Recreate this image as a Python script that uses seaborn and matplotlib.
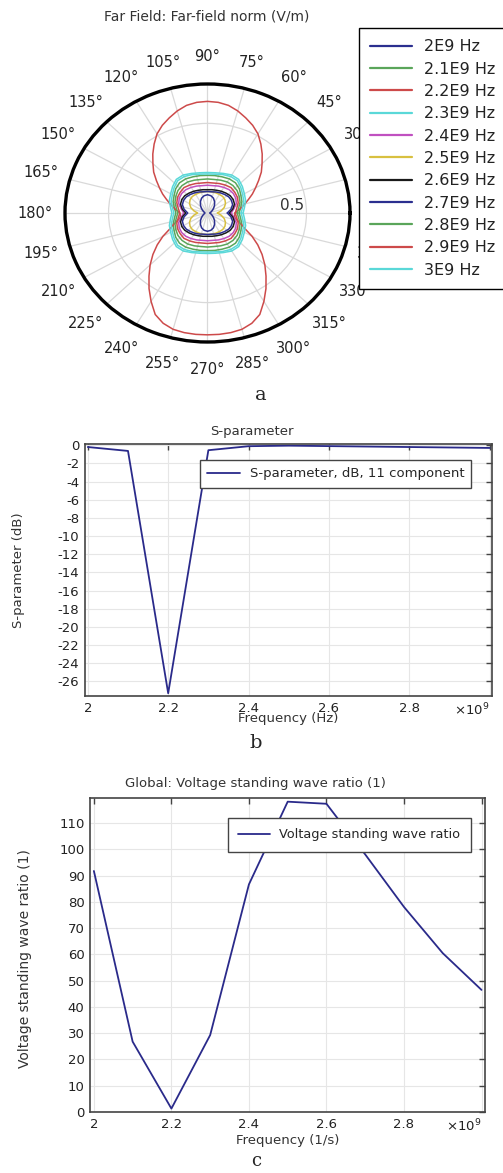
import numpy as np
import matplotlib
matplotlib.use("Agg")
import matplotlib.pyplot as plt
import seaborn as sns

# ---------------- data ----------------
# far-field norm (V/m), read over one quadrant (0..90 deg):
# small patterns every 10 deg, the large 2.2E9 pattern every 5 deg
freq_labels = ["2E9 Hz", "2.1E9 Hz", "2.2E9 Hz", "2.3E9 Hz", "2.4E9 Hz", "2.5E9 Hz",
               "2.6E9 Hz", "2.7E9 Hz", "2.8E9 Hz", "2.9E9 Hz", "3E9 Hz"]
curve_colors = ["#2b2f8f", "#5aa55a", "#cd4a4a", "#5ad8d8", "#c050c0", "#d8c040",
                "#1a1a1a", "#2b2f8f", "#5aa55a", "#cd4a4a", "#5ad8d8"]

ff_2_0 = [0.013, 0.015, 0.02, 0.028, 0.04, 0.055, 0.072, 0.088, 0.098, 0.102]
ff_2_1 = [0.16, 0.17, 0.185, 0.195, 0.21, 0.22, 0.22, 0.215, 0.212, 0.21]
ff_2_2_upper = [0.14, 0.155, 0.175, 0.195, 0.22, 0.25, 0.28, 0.315, 0.355, 0.39,
                0.43, 0.47, 0.51, 0.54, 0.565, 0.59, 0.61, 0.62, 0.623]
ff_2_2_lower = [0.14, 0.138, 0.14, 0.155, 0.18, 0.21, 0.26, 0.31, 0.36, 0.41,
                0.46, 0.515, 0.57, 0.625, 0.655, 0.672, 0.678, 0.68, 0.68]
ff_2_3 = [0.17, 0.18, 0.195, 0.205, 0.22, 0.235, 0.235, 0.228, 0.22, 0.218]
ff_2_4 = [0.12, 0.135, 0.155, 0.165, 0.17, 0.17, 0.165, 0.16, 0.155, 0.155]
ff_2_5 = [0.05, 0.07, 0.09, 0.105, 0.115, 0.12, 0.12, 0.12, 0.12, 0.12]
ff_2_6 = [0.11, 0.13, 0.145, 0.15, 0.15, 0.145, 0.14, 0.135, 0.132, 0.13]
ff_2_7 = [0.10, 0.12, 0.135, 0.14, 0.14, 0.135, 0.13, 0.125, 0.12, 0.12]
ff_2_8 = [0.15, 0.16, 0.175, 0.185, 0.195, 0.2, 0.2, 0.195, 0.19, 0.19]
ff_2_9 = [0.14, 0.15, 0.165, 0.175, 0.18, 0.185, 0.18, 0.175, 0.17, 0.17]
ff_3_0 = [0.18, 0.19, 0.205, 0.215, 0.23, 0.245, 0.245, 0.235, 0.228, 0.226]

# frequency sweep (x10^9 Hz)
freq = [2.0, 2.1, 2.2, 2.3, 2.4, 2.5, 2.6, 2.7, 2.8, 2.9, 3.0]
s11_db = [-0.2, -0.63, -27.3, -0.55, -0.11, -0.05, -0.1, -0.15, -0.2, -0.25, -0.3]
vswr = [91.8, 26.8, 1.3, 29.3, 86.7, 118.2, 117.4, 98.1, 78.1, 60.5, 46.5]

freq_ticks = [2.0, 2.2, 2.4, 2.6, 2.8, 3.0]
freq_ticklabels = ["2", "2.2", "2.4", "2.6", "2.8", "×10$^9$"]


def full_circle(upper, lower=None):
    # pattern is mirror symmetric about both axes
    lower = upper if lower is None else lower
    return upper + upper[-2::-1] + lower[1:] + lower[-2::-1]


sns.set_theme(style="white")
plt.rcParams["font.family"] = ["DejaVu Sans"]
plt.rcParams["mathtext.fontset"] = "dejavusans"
plt.rcParams["axes.unicode_minus"] = False

fig = plt.figure(figsize=(5.03, 11.73), dpi=100)
W, H = 503, 1173


def box(x0, x1, y0, y1):
    return [x0 / W, 1 - y1 / H, (x1 - x0) / W, (y1 - y0) / H]


# ---------------- a: polar far field ----------------
axp = fig.add_axes(box(65, 350, 84, 342), projection="polar")
axp.set_aspect("auto")
rmax = 0.72
curves = [ff_2_0, ff_2_1, None, ff_2_3, ff_2_4, ff_2_5, ff_2_6, ff_2_7, ff_2_8, ff_2_9, ff_3_0]
handles = []
for i, (lab, col) in enumerate(zip(freq_labels, curve_colors)):
    r = full_circle(ff_2_2_upper, ff_2_2_lower) if i == 2 else full_circle(curves[i])
    theta = np.linspace(0, 2 * np.pi, len(r))
    sns.lineplot(x=theta, y=r, ax=axp, color=col, lw=1.1, sort=False, estimator=None)
    handles.append(axp.lines[-1])
axp.set_xlabel("")
axp.set_ylabel("")
axp.set_ylim(0, rmax)
axp.set_xticks(np.deg2rad(np.arange(0, 360, 15)))
axp.set_xticklabels([])
axp.set_yticks([0.5])
axp.set_yticklabels([])
axp.grid(True, color="#d9d9d9", lw=0.9)
axp.spines["polar"].set_linewidth(2.4)
axp.spines["polar"].set_color("black")
for deg in range(0, 360, 15):
    axp.text(np.deg2rad(deg), rmax * 1.21, f"{deg}°", ha="center", va="center",
             fontsize=10.5, color="#222222", clip_on=False)
axp.text(np.deg2rad(5.6), 0.43, "0.5", ha="center", va="center", fontsize=11, color="#333333")

fig.text(207 / W, 1 - 17 / H, "Far Field: Far-field norm (V/m)", ha="center", va="center",
         fontsize=10, color="#333333")
leg = fig.legend(handles, freq_labels, loc="upper left", bbox_to_anchor=(359 / W, 1 - 28 / H),
                 bbox_transform=fig.transFigure, borderaxespad=0, fontsize=11.5,
                 handlelength=2.6, handletextpad=0.8, labelspacing=0.46, borderpad=0.7,
                 fancybox=False, framealpha=1, edgecolor="black")
leg.get_frame().set_linewidth(1.0)
for t in leg.get_texts():
    t.set_color("#222222")
for l in leg.get_lines():
    l.set_linewidth(1.6)
fig.text(261 / W, 1 - 395 / H, "a", ha="center", va="center", fontsize=14, family="DejaVu Serif")


def style_cartesian(ax):
    for s in ax.spines.values():
        s.set_color("#444444")
        s.set_linewidth(1.2)
        s.set_visible(True)
    ax.tick_params(direction="in", top=True, right=True, length=4, width=1,
                   color="#444444", labelsize=9.5, labelcolor="#222222", pad=4)
    ax.grid(True, color="#e6e6e6", lw=0.8)
    ax.set_xticks(freq_ticks)
    ax.set_xticklabels(freq_ticklabels)
    ax.get_xticklabels()[-1].set_ha("right")


# ---------------- b: S-parameter ----------------
axb = fig.add_axes(box(85, 491.7, 444.3, 696))
sns.lineplot(x=freq, y=s11_db, ax=axb, color="#2a2a8a", lw=1.3,
             label="S-parameter, dB, 11 component")
axb.set_xlim(1.993, 3.005)
axb.set_ylim(-27.6, 0.1)
axb.set_yticks(np.arange(-26, 1, 2))
style_cartesian(axb)
axb.set_xlabel("Frequency (Hz)", fontsize=9.5, color="#333333")
axb.set_ylabel("S-parameter (dB)", fontsize=9.5, color="#333333")
axb.xaxis.set_label_coords(0.5, -0.065)
axb.yaxis.set_label_coords(-0.148, 0.5)
lb = axb.legend(loc="upper left", bbox_to_anchor=(0.283, 0.9376), borderaxespad=0,
                fontsize=9.5, handlelength=2.5, handletextpad=0.7, borderpad=0.55,
                fancybox=False, framealpha=1, edgecolor="#444444")
fig.text(252 / W, 1 - 432 / H, "S-parameter", ha="center", va="center", fontsize=9.5, color="#333333")
fig.text(256 / W, 1 - 743 / H, "b", ha="center", va="center", fontsize=14, family="DejaVu Serif")

# ---------------- c: VSWR ----------------
axc = fig.add_axes(box(90, 485, 798, 1112))
sns.lineplot(x=freq, y=vswr, ax=axc, color="#2a2a8a", lw=1.3, label="Voltage standing wave ratio")
axc.set_xlim(1.99, 3.009)
axc.set_ylim(0, 119.6)
axc.set_yticks(np.arange(0, 111, 10))
style_cartesian(axc)
axc.set_xlabel("Frequency (1/s)", fontsize=9.5, color="#333333")
axc.set_ylabel("Voltage standing wave ratio (1)", fontsize=10, color="#333333")
axc.xaxis.set_label_coords(0.5, -0.07)
axc.yaxis.set_label_coords(-0.147, 0.49)
lc = axc.legend(loc="upper left", bbox_to_anchor=(0.3486, 0.936), borderaxespad=0,
                fontsize=9.3, handlelength=2.5, handletextpad=0.7, borderpad=0.8,
                fancybox=False, framealpha=1, edgecolor="#444444")
fig.text(255.5 / W, 1 - 783 / H, "Global: Voltage standing wave ratio (1)", ha="center", va="center",
         fontsize=9.5, color="#333333")
fig.text(256 / W, 1 - 1161 / H, "c", ha="center", va="center", fontsize=13, family="DejaVu Serif")

fig.savefig("out.png", dpi=100, facecolor="white")
